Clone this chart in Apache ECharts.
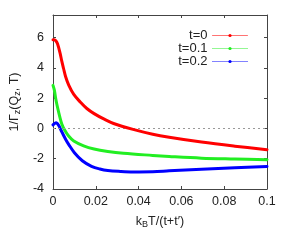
<!DOCTYPE html>
<html><head><meta charset="utf-8">
<script src="https://cdn.jsdelivr.net/npm/echarts@6/dist/echarts.min.js"></script>
<style>html,body{margin:0;padding:0;background:#fff}#c{width:291px;height:244px}</style>
</head><body><div id="c"></div>
<script>
var seriesNames = ['t=0', 't=0.1', 't=0.2'];
var redX = [0, 0.0006, 0.0013, 0.0021, 0.0033, 0.0041, 0.0049, 0.0059, 0.0074, 0.0097, 0.0128, 0.0158, 0.0192, 0.0237, 0.0283, 0.0374, 0.0466, 0.0543, 0.0694, 0.085, 0.1];
var redY = [5.87, 5.87, 5.8, 5.6, 4.98, 4.45, 3.98, 3.42, 2.85, 2.25, 1.74, 1.32, 0.98, 0.63, 0.33, -0.06, -0.38, -0.58, -0.9, -1.17, -1.4];
var greenX = [0, 0.0006, 0.0013, 0.0021, 0.0032, 0.0041, 0.0055, 0.0073, 0.0097, 0.0143, 0.0192, 0.0256, 0.0329, 0.0466, 0.0543, 0.0694, 0.085, 0.1];
var greenY = [2.85, 2.55, 1.95, 1.4, 0.75, 0.3, -0.12, -0.5, -0.83, -1.15, -1.36, -1.52, -1.64, -1.78, -1.85, -1.96, -2.02, -2.07];
var blueX = [0, 0.0009, 0.0015, 0.0022, 0.0029, 0.0037, 0.006, 0.0073, 0.01, 0.0137, 0.018, 0.0219, 0.0256, 0.0315, 0.0374, 0.0466, 0.0543, 0.0694, 0.085, 0.1];
var blueY = [0.24, 0.35, 0.38, 0.3, 0.15, -0.1, -0.75, -1.05, -1.6, -2.13, -2.5, -2.68, -2.78, -2.84, -2.87, -2.86, -2.8, -2.69, -2.6, -2.51];
var xTicks = {min: 0, max: 0.1, interval: 0.02};
var yTicks = {min: -4, max: 7.5, interval: 2};

function pairs(xs, ys) { return xs.map(function (x, i) { return [x, ys[i]]; }); }
var colors = ['#ff0000', '#22ee22', '#0000ff'];
var font = 'Liberation Sans, Arial, sans-serif';
var frame = '#444';

var chart = echarts.init(document.getElementById('c'), null, {renderer: 'canvas'});
function mkSeries(i, xs, ys) {
  return {
    name: seriesNames[i], type: 'line', data: pairs(xs, ys),
    smooth: 0.35, symbol: 'circle', symbolSize: 4, showSymbol: false,
    lineStyle: {width: 3, color: colors[i], cap: 'round', join: 'round'},
    itemStyle: {color: colors[i]}, z: 5 - i, silent: true, animation: false
  };
}
var s0 = mkSeries(0, redX, redY);
s0.markLine = {
  silent: true, symbol: ['none', 'none'], label: {show: false},
  lineStyle: {color: '#999', type: [2, 3], width: 1},
  data: [{yAxis: 0}], animation: false
};
var option = {
  animation: false,
  grid: {left: 48, right: 24, top: 15, bottom: 55},
  legend: {
    orient: 'vertical', right: 38, top: 24, align: 'right',
    itemWidth: 35, itemHeight: 4, itemGap: 0,
    textStyle: {fontFamily: font, fontSize: 13, color: '#222', lineHeight: 13},
    data: [
      {name: 't=0', lineStyle: {width: 1, type: 'solid', opacity: 0.55}},
      {name: 't=0.1', lineStyle: {width: 1, type: 'dotted', opacity: 0.55}},
      {name: 't=0.2', lineStyle: {width: 1, type: 'dotted', opacity: 0.55}}
    ]
  },
  xAxis: [{
    type: 'value', min: xTicks.min, max: xTicks.max, interval: xTicks.interval,
    name: '{n|k}{s|B}{n|T/(t+t\u2032)}', nameLocation: 'middle', nameGap: 25,
    nameTextStyle: {rich: {n: {fontFamily: font, fontSize: 12.5, color: '#222'},
      s: {fontFamily: font, fontSize: 9, color: '#222', verticalAlign: 'bottom', padding: [6, 0, 0, 0]}}},
    axisLine: {show: true, onZero: false, lineStyle: {color: frame, width: 1}},
    axisTick: {show: true, inside: true, length: 3, lineStyle: {color: frame}},
    axisLabel: {fontFamily: font, fontSize: 12.5, color: '#222', margin: 6},
    splitLine: {show: false}
  }, {
    type: 'value', position: 'top', min: xTicks.min, max: xTicks.max, interval: xTicks.interval,
    axisLine: {show: true, onZero: false, lineStyle: {color: frame, width: 1}},
    axisTick: {show: true, inside: true, length: 3, lineStyle: {color: frame}},
    axisLabel: {show: false}, splitLine: {show: false}
  }],
  yAxis: [{
    type: 'value', min: yTicks.min, max: yTicks.max, interval: yTicks.interval,
    name: '{n|1/\u0393}{s|z}{n|(Q}{s|z}{n|, T)}', nameLocation: 'middle', nameGap: 30, nameRotate: 90,
    nameTextStyle: {rich: {n: {fontFamily: font, fontSize: 12.5, color: '#222'},
      s: {fontFamily: font, fontSize: 9, color: '#222', verticalAlign: 'bottom', padding: [6, 0, 0, 0]}}},
    axisLine: {show: true, onZero: false, lineStyle: {color: frame, width: 1}},
    axisTick: {show: true, inside: true, length: 3, lineStyle: {color: frame}},
    axisLabel: {fontFamily: font, fontSize: 12.5, color: '#222', margin: 9, showMaxLabel: false},
    splitLine: {show: false}
  }, {
    type: 'value', position: 'right', min: yTicks.min, max: yTicks.max, interval: yTicks.interval,
    axisLine: {show: true, onZero: false, lineStyle: {color: frame, width: 1}},
    axisTick: {show: true, inside: true, length: 3, lineStyle: {color: frame}},
    axisLabel: {show: false}, splitLine: {show: false}
  }],
  series: [s0, mkSeries(1, greenX, greenY), mkSeries(2, blueX, blueY)]
};
chart.setOption(option);
</script></body></html>
